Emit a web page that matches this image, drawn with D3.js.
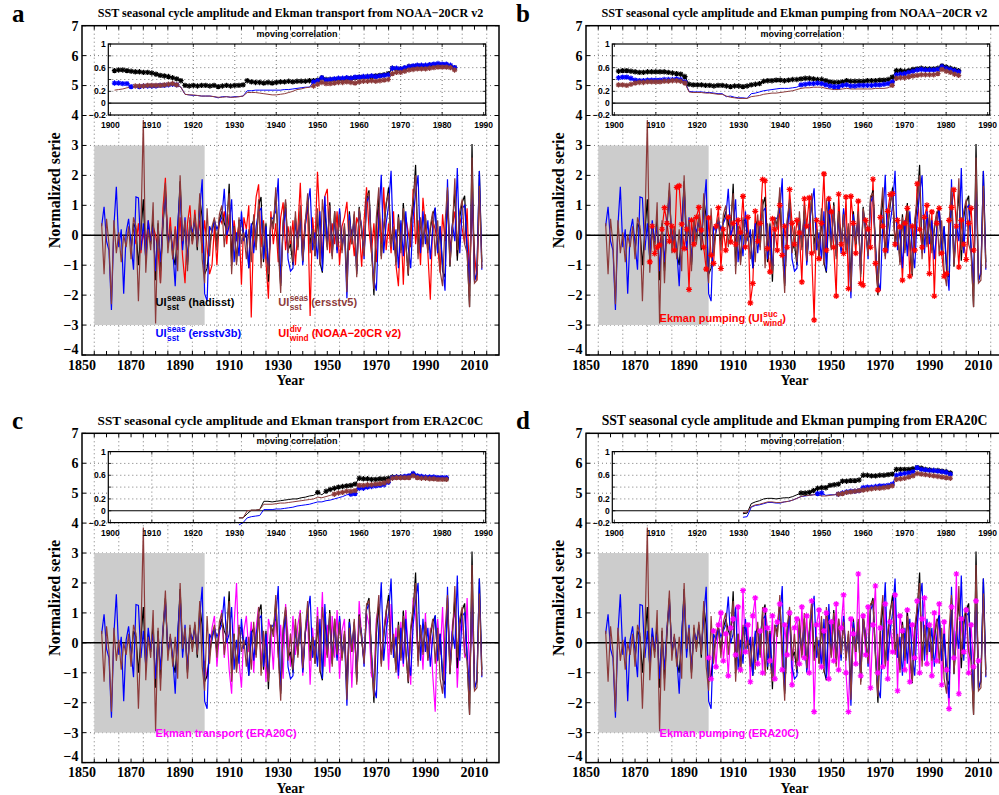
<!DOCTYPE html>
<html><head><meta charset="utf-8">
<script src="https://cdn.jsdelivr.net/npm/d3@7"></script>
<style>body{margin:0;background:#fff}</style>
</head><body><svg id="c" width="999" height="795"></svg>
<script>
// ---------------- DATA ----------------
const sstStart = 1858;
const ersstv5 = [0.4,-1.3,
 0.55,-0.3,-2.3,0.5,-0.6,0.1,-0.9,0.0,-0.4,0.3,
 -0.8,0.6,0.3,-2.2,0.2,3.85,-1.25,0.2,-0.5,1.1,
 -2.95,0.5,-1.6,0.4,1.75,-0.6,0.3,-0.8,0.2,-1.2,
 2.0,-0.2,0.5,-1.2,0.6,-0.3,0.7,-0.4,1.4,-0.8,
 -1.6,0.9,-0.7,0.3,0.6,-0.5,0.7,1.0,-0.4,0.5,
 1.4,-1.3,0.3,-1.0,0.6,-0.3,0.1,-0.8,0.2,-0.9,
 0.7,-0.5,1.2,-1.1,0.4,-0.6,-1.3,0.6,0.2,1.6,
 -0.4,-1.93,0.5,1.2,-0.6,0.3,-0.9,0.8,-0.5,1.0,
 -0.85,0.4,1.4,-0.6,0.2,-0.7,0.9,-1.0,1.2,0.3,
 -0.5,1.0,-0.8,0.8,-0.4,0.7,-0.6,0.4,-1.9,0.5,
 -0.3,0.8,-1.4,0.9,0.2,-0.7,1.3,1.4,-0.5,-1.8,
 0.6,1.6,-0.8,0.3,1.1,1.4,-0.4,0.3,-1.0,0.6,
 -0.6,0.9,-0.3,-1.3,0.5,1.2,2.0,-0.8,0.6,-0.4,
 0.7,-0.6,0.3,0.8,-0.7,0.5,-1.2,-1.7,0.4,1.6,
 -1.0,0.2,1.9,-0.5,0.8,1.2,-0.3,-0.6,-2.4,2.6,
 -1.6,-1.5,1.65,-1.1];
const ersstv3b = [0.3,0.95,
 -0.2,-0.5,-2.5,0.3,1.62,-0.4,0.2,-1.95,0.1,0.55,
 -0.3,-1.15,1.28,1.25,-0.5,0.4,-0.8,0.5,-0.2,0.3,
 -1.2,0.2,-0.9,0.5,1.4,-0.3,0.2,-0.5,-1.7,0.3,
 1.6,-0.5,0.6,-0.9,0.4,0.1,0.5,-0.3,0.9,1.87,
 -1.95,-2.2,0.3,0.1,0.5,0.2,0.4,0.6,1.55,0.0,
 0.3,1.2,-0.9,0.1,-0.7,0.8,-0.2,0.2,-1.1,0.4,
 -0.6,0.3,0.8,0.9,-0.8,0.3,-1.2,0.5,0.6,0.8,
 1.9,-1.6,0.2,0.9,-0.8,-1.2,-1.1,0.5,-0.2,0.6,
 -1.0,0.3,1.0,1.57,-0.5,0.1,-0.8,0.8,-1.2,1.3,
 -0.3,0.9,-0.6,0.6,-0.6,0.9,-0.4,0.2,-2.1,0.7,
 -0.2,0.6,-1.2,0.8,0.3,-0.8,1.1,1.3,-0.4,-1.5,
 -1.85,0.5,2.02,-0.6,0.4,1.0,2.15,-0.5,0.2,-1.1,
 0.5,-0.7,0.8,-0.4,-1.1,0.6,1.4,2.0,-0.6,0.8,
 -0.3,0.5,-0.8,0.2,0.93,-0.6,0.3,-1.0,-1.85,1.87,
 -0.9,0.4,-0.2,2.25,-0.6,0.9,1.0,-0.4,-1.6,1.8,
 -1.55,-1.2,2.15,-1.15];
const hadStart = 1870;
const hadisst = [
 -0.5,0.4,0.2,-1.0,0.1,1.2,-0.8,0.3,-0.3,0.6,
 -1.5,0.4,-1.2,0.3,1.5,-0.4,0.2,-0.6,-1.0,0.1,
 1.8,-0.3,0.4,-1.0,0.5,-0.2,0.6,-0.5,1.2,0.6,
 -1.3,-1.1,-0.4,0.2,0.5,-0.3,0.5,0.8,0.4,0.2,
 1.72,-1.0,0.3,-0.9,0.5,0.5,-0.1,0.0,-1.1,0.3,
 0.5,-0.4,1.0,1.28,-0.9,0.4,-1.55,0.6,0.3,1.4,
 -0.2,-1.7,0.4,1.1,-0.5,-0.3,-1.0,0.6,-0.4,0.8,
 -0.9,0.3,1.2,-0.3,0.2,-0.7,0.7,-0.9,-1.25,0.9,
 -0.4,1.1,-0.7,0.8,-0.5,0.8,-0.5,0.3,-1.5,0.8,
 -0.3,0.7,-1.3,0.95,0.1,-0.6,1.2,1.5,-0.3,-2.0,
 0.3,1.3,-0.7,0.2,1.0,1.6,-0.3,0.2,-0.9,0.7,
 -0.5,1.08,-0.2,-1.35,0.4,1.0,2.35,-0.6,0.5,-0.3,
 0.6,-0.5,0.2,0.7,0.9,-0.6,0.3,-1.2,-1.4,1.5,
 -1.05,0.3,1.5,-0.85,0.6,1.1,1.32,-0.5,-2.4,3.05,
 -1.5,-1.3,2.15,-0.9];

// Ekman indices
const noaaDivStart = 1871;
const noaaDiv = [0.2,-0.3,0.4,-0.6,0.1,-0.4,0.5,-0.2,0.3,
 0.0,-0.5,-1.6,0.9,1.92,-0.4,0.6,-0.8,0.3,-0.5,
 0.6,-0.7,-1.6,0.4,1.0,-0.3,0.85,-0.2,0.5,-0.6,
 0.5,-0.4,-1.3,-1.0,0.3,-1.0,0.6,0.4,0.8,-0.3,
 0.7,-0.6,0.5,-0.2,0.4,-1.65,0.6,0.2,1.0,-2.75,
 0.3,1.28,1.7,-0.4,0.5,-0.9,-2.12,0.8,-0.3,0.4,
 -0.9,0.6,1.1,-0.5,0.3,-0.4,0.5,-1.0,0.2,1.75,
 -0.6,0.5,0.9,-2.7,0.6,-0.3,2.12,0.4,-0.8,1.3,
 1.55,-0.6,0.4,-0.3,0.8,-1.0,0.3,0.6,1.12,-0.5,
 0.2,-0.7,0.6,0.3,-1.05,0.5,1.6,0.2,-0.6,0.4,
 -0.9,0.9,-0.3,1.6,-0.5,0.4,-0.6,0.8,-1.0,-1.7,
 0.4,-1.65,0.6,0.1,-0.4,1.55,-0.3,0.5,-1.0,1.25,
 0.3,-0.6,-2.15,0.5,0.2,-0.4,-1.25,0.7,-0.2,1.0,
 -0.5,0.3,0.8,-0.7,0.6,0.2,-0.3,0.9,-1.6,1.0,
 -0.6,-1.5,1.2];
const noaaSucStart = 1876;
const noaaSuc = [-0.89,0.3,-0.61,-0.4,
 -0.33,0.2,0.92,0.4,-0.2,0.3,-0.5,1.6,1.65,0.37,
 -0.44,0.2,-1.81,0.5,-0.3,0.6,0.93,0.17,-0.4,-1.13,
 0.58,-0.67,-0.94,0.3,0.92,-1.11,0.2,-0.5,0.6,-0.22,
 0.4,-0.3,0.5,0.1,1.3,-0.39,0.6,-2.26,-1.61,0.8,
 -0.2,0.4,1.86,1.82,-0.44,-1.22,0.55,0.2,-0.5,1.0,
 -0.67,0.3,-0.4,1.53,0.4,-0.3,0.5,0.08,-1.56,1.22,
 0.3,1.25,-0.6,-2.83,0.5,-0.78,0.4,2.05,-0.5,1.22,
 0.78,-0.4,-2.03,1.37,-0.3,-0.61,1.28,-1.78,1.3,0.4,
 -0.6,1.14,-1.61,-1.67,0.5,0.2,-0.4,1.87,-0.94,-1.83,
 0.6,0.3,-0.5,0.8,1.36,1.39,-0.3,0.5,0.28,-1.5,
 0.4,0.9,-1.37,0.3,-0.5,1.72,0.2,-0.4,0.6,1.0,
 -1.28,0.78,-2.03,0.4,0.9,-0.6,-1.37,-1.28,0.5,0.93,
 1.52,0.3,-1.06,0.5,-0.3,-0.81,0.4,0.9,-0.5];
const eraStart = 1900;
const eraTransport = [
 -0.6,-1.2,-0.4,0.5,0.9,-0.8,0.3,1.1,-0.5,0.4,
 -0.9,-1.7,0.6,2.0,-0.6,-1.5,0.4,0.9,-0.3,0.7,
 -1.0,0.5,1.2,-0.7,0.3,-1.3,0.8,0.4,-0.9,1.0,
 -0.5,0.6,-1.2,1.3,0.2,-0.8,0.9,-0.4,0.6,1.1,
 -1.1,0.3,0.8,-1.4,0.5,-0.6,1.2,-0.3,1.7,-0.8,
 0.6,-1.0,0.9,-0.5,1.1,-1.2,0.4,0.8,-1.6,0.7,
 -1.5,0.5,-0.9,1.4,0.2,-0.7,1.0,0.6,-1.1,-1.3,
 0.8,1.2,-0.6,0.4,1.0,-0.9,1.3,-0.4,0.5,-1.2,
 0.7,-0.8,1.1,-0.3,-1.4,1.5,0.9,-0.5,0.4,-0.9,
 1.0,-0.6,0.5,-1.1,-2.3,0.8,-0.4,1.2,-1.3,1.55,
 -0.8,0.6,1.1,-1.5,0.3,0.9,-0.5,1.5,-1.0,0.8,
 -0.7];
const eraPumping = [
 -0.5,-1.2,0.4,-0.8,0.6,1.0,-0.6,0.3,-1.1,0.5,
 0.8,-0.4,1.2,-0.9,1.75,-0.3,0.6,-1.3,0.9,1.5,
 -0.7,0.4,-1.0,1.1,0.5,-0.6,0.9,-1.2,0.7,1.3,
 -0.9,0.6,-0.4,1.0,-1.4,0.5,0.8,-0.7,1.2,-0.5,
 0.9,-1.0,1.4,-2.3,0.6,1.1,-0.8,0.4,1.0,-1.2,
 0.7,-0.6,1.3,-0.9,0.5,1.6,-1.0,-2.3,0.8,0.3,
 -0.7,2.3,-1.1,0.9,-0.4,1.2,-1.5,0.6,1.9,-1.0,
 0.5,-0.8,1.3,-1.2,0.7,-0.3,1.6,-1.6,0.9,0.4,
 -0.9,1.1,-1.3,0.6,-0.5,1.4,-1.0,0.8,1.5,-0.7,
 0.6,-1.1,1.0,-0.6,1.3,-1.4,0.7,-0.9,-2.2,1.2,
 -0.5,2.3,-1.7,0.8,-0.3,1.1,-1.0,0.6,-0.8,1.4,
 -0.6];

// moving correlations (insets)
const corrStartNOAA = 1901;
const corrA_had = [0.55,0.56,0.56,0.55,0.54,0.53,0.53,0.52,0.52,0.51,
 0.49,0.47,0.46,0.45,0.43,0.41,0.38,0.30,0.29,0.30,
 0.29,0.30,0.30,0.29,0.30,0.28,0.29,0.30,0.29,0.30,
 0.30,0.31,0.38,0.36,0.35,0.35,0.34,0.35,0.34,0.35,
 0.36,0.36,0.37,0.36,0.37,0.37,0.37,0.38,0.38,0.39,
 0.43,0.40,0.40,0.40,0.41,0.41,0.42,0.42,0.43,0.44,
 0.44,0.45,0.45,0.46,0.47,0.48,0.50,0.59,0.58,0.58,
 0.59,0.62,0.62,0.63,0.63,0.63,0.64,0.64,0.65,0.64,
 0.64,0.62,0.60];
const corrA_v3b = [0.34,0.34,0.33,0.33,0.28,0.27,0.28,0.29,0.29,0.29,
 0.29,0.30,0.30,0.31,0.32,0.31,0.27,0.15,0.14,0.13,
 0.13,0.12,0.12,0.12,0.11,0.09,0.11,0.11,0.10,0.11,
 0.11,0.12,0.21,0.21,0.22,0.22,0.22,0.22,0.22,0.22,
 0.22,0.23,0.23,0.24,0.25,0.26,0.27,0.27,0.36,0.38,
 0.43,0.39,0.40,0.41,0.42,0.42,0.43,0.42,0.44,0.44,
 0.45,0.45,0.46,0.45,0.46,0.47,0.48,0.59,0.59,0.58,
 0.60,0.62,0.63,0.64,0.64,0.64,0.65,0.66,0.67,0.66,
 0.66,0.64,0.60];
const corrA_v5 = [0.22,0.23,0.24,0.26,0.27,0.29,0.29,0.29,0.30,0.30,
 0.30,0.30,0.31,0.32,0.33,0.31,0.27,0.15,0.14,0.14,
 0.13,0.12,0.12,0.12,0.11,0.10,0.10,0.11,0.10,0.10,
 0.11,0.12,0.18,0.18,0.18,0.17,0.16,0.15,0.14,0.14,
 0.15,0.16,0.18,0.20,0.23,0.24,0.26,0.27,0.29,0.32,
 0.35,0.33,0.33,0.34,0.35,0.35,0.36,0.35,0.34,0.36,
 0.37,0.37,0.38,0.37,0.38,0.39,0.40,0.50,0.52,0.52,
 0.54,0.56,0.57,0.58,0.58,0.58,0.59,0.60,0.61,0.61,
 0.61,0.60,0.56];
const corrB_had = [0.54,0.55,0.55,0.54,0.53,0.52,0.52,0.53,0.53,0.53,
 0.53,0.53,0.52,0.51,0.50,0.49,0.45,0.32,0.31,0.31,
 0.31,0.30,0.30,0.29,0.30,0.30,0.29,0.28,0.29,0.29,
 0.28,0.29,0.31,0.32,0.33,0.37,0.38,0.38,0.39,0.39,
 0.38,0.39,0.40,0.40,0.41,0.42,0.42,0.41,0.40,0.40,
 0.38,0.36,0.35,0.35,0.36,0.38,0.37,0.37,0.37,0.37,
 0.38,0.38,0.38,0.39,0.39,0.40,0.44,0.55,0.55,0.54,
 0.55,0.57,0.58,0.59,0.58,0.58,0.58,0.59,0.63,0.61,
 0.59,0.57,0.55];
const corrB_v3b = [0.43,0.44,0.44,0.42,0.39,0.38,0.38,0.39,0.39,0.39,
 0.39,0.40,0.40,0.40,0.41,0.40,0.36,0.20,0.19,0.19,
 0.19,0.18,0.18,0.17,0.16,0.16,0.11,0.12,0.10,0.09,
 0.09,0.08,0.16,0.17,0.19,0.21,0.22,0.23,0.24,0.25,
 0.25,0.25,0.26,0.27,0.31,0.32,0.33,0.33,0.34,0.33,
 0.31,0.29,0.28,0.28,0.30,0.31,0.29,0.29,0.30,0.30,
 0.30,0.30,0.31,0.31,0.32,0.33,0.36,0.48,0.49,0.50,
 0.52,0.54,0.56,0.57,0.56,0.56,0.56,0.57,0.62,0.59,
 0.57,0.55,0.53];
const corrB_v5 = [0.31,0.31,0.30,0.32,0.34,0.35,0.35,0.36,0.36,0.36,
 0.36,0.37,0.37,0.38,0.38,0.37,0.34,0.19,0.18,0.18,
 0.18,0.17,0.17,0.16,0.15,0.15,0.12,0.10,0.09,0.08,
 0.08,0.08,0.11,0.12,0.13,0.15,0.16,0.17,0.17,0.18,
 0.19,0.20,0.21,0.23,0.25,0.26,0.26,0.27,0.27,0.27,
 0.25,0.24,0.23,0.23,0.24,0.25,0.24,0.24,0.24,0.24,
 0.24,0.24,0.25,0.25,0.25,0.26,0.30,0.42,0.43,0.43,
 0.45,0.46,0.47,0.48,0.48,0.48,0.48,0.50,0.57,0.54,
 0.52,0.49,0.47];
const corrStartERA = 1931;
const corrC_had = [-0.12,-0.12,-0.05,0.01,0.01,0.02,0.16,0.16,0.15,0.16,
 0.17,0.18,0.19,0.20,0.20,0.22,0.23,0.25,0.26,0.31,
 0.27,0.33,0.36,0.38,0.40,0.41,0.42,0.43,0.45,0.55,
 0.54,0.54,0.53,0.53,0.54,0.54,0.55,0.57,0.57,0.57,
 0.57,0.58,0.62,0.58,0.57,0.56,0.56,0.55,0.55,0.55,
 0.54];
const corrC_v3b = [-0.24,-0.20,-0.12,-0.10,-0.09,-0.08,0.02,0.02,0.02,0.03,
 0.03,0.04,0.05,0.06,0.08,0.09,0.10,0.11,0.13,0.15,
 0.15,0.17,0.18,0.20,0.22,0.24,0.27,0.28,0.29,0.38,
 0.38,0.40,0.41,0.42,0.43,0.44,0.48,0.56,0.57,0.57,
 0.58,0.59,0.63,0.59,0.58,0.57,0.57,0.57,0.56,0.56,
 0.56];
const corrC_v5 = [-0.12,-0.12,0.00,0.01,0.01,0.02,0.11,0.11,0.11,0.12,
 0.13,0.13,0.14,0.15,0.16,0.17,0.18,0.19,0.20,0.23,
 0.22,0.24,0.26,0.28,0.30,0.31,0.33,0.33,0.34,0.43,
 0.43,0.44,0.44,0.45,0.46,0.47,0.50,0.55,0.56,0.56,
 0.56,0.56,0.59,0.56,0.55,0.55,0.54,0.54,0.53,0.53,
 0.53];
const corrD_had = [-0.05,-0.04,0.12,0.15,0.17,0.20,0.21,0.21,0.20,0.21,
 0.22,0.22,0.24,0.27,0.30,0.30,0.31,0.34,0.38,0.39,
 0.39,0.43,0.44,0.45,0.50,0.50,0.51,0.51,0.52,0.60,
 0.60,0.59,0.59,0.60,0.60,0.61,0.62,0.70,0.70,0.70,
 0.70,0.71,0.73,0.72,0.70,0.69,0.68,0.68,0.67,0.66,
 0.64];
const corrD_v3b = [-0.11,-0.10,0.06,0.09,0.10,0.12,0.14,0.14,0.13,0.13,
 0.15,0.16,0.18,0.21,0.24,0.25,0.26,0.27,0.29,0.30,
 0.26,0.27,0.27,0.28,0.30,0.32,0.33,0.33,0.34,0.39,
 0.40,0.40,0.41,0.42,0.42,0.43,0.45,0.60,0.62,0.63,
 0.64,0.66,0.73,0.70,0.69,0.68,0.68,0.67,0.66,0.65,
 0.62];
const corrD_v5 = [-0.03,-0.02,0.07,0.10,0.11,0.13,0.15,0.15,0.14,0.14,
 0.15,0.16,0.18,0.21,0.24,0.26,0.26,0.27,0.27,0.25,
 0.25,0.26,0.27,0.28,0.29,0.31,0.32,0.33,0.34,0.35,
 0.36,0.37,0.38,0.38,0.39,0.40,0.42,0.53,0.54,0.55,
 0.57,0.59,0.63,0.62,0.61,0.60,0.59,0.58,0.57,0.56,
 0.55];

const mainXTicks = [1850,1870,1890,1910,1930,1950,1970,1990,2010];
const mainYTicks = [-4,-3,-2,-1,0,1,2,3,4,5,6,7];
const insetXTicks = [1900,1910,1920,1930,1940,1950,1960,1970,1980,1990];
const insetYLabels = [-0.2,0,0.2,0.6,1];
const insetYGrid = [0.2,0.4,0.6,0.8];
const sigLevel = 0.28;

const titles = [
 'SST seasonal cycle amplitude and Ekman transport from NOAA\u221220CR v2',
 'SST seasonal cycle amplitude and Ekman pumping from NOAA\u221220CR v2',
 'SST seasonal cycle amplitude and Ekman transport from ERA2C0C',
 'SST seasonal cycle amplitude and Ekman pumping from ERA20C'];
const letters = ['a','b','c','d'];

// ---------------- DRAW ----------------
const COL = {had:'#000000', v3b:'#0000ff', v5:'#8c3a3a', red:'#ff0000', mag:'#ff00ff'};
const serif = "'Liberation Serif','Times New Roman',serif";
const sans = "'Liberation Sans',Arial,Helvetica,sans-serif";
const svg = d3.select('#c');
const series = (start, vals) => vals.map((v,i)=>({year:start+i, v}));
function starPath(r){const d=r*0.7071;return `M${-r},0L${r},0M0,${-r}L0,${r}M${-d},${-d}L${d},${d}M${-d},${d}L${d},${-d}`;}

const panels = [
 {dx:0, dy:0, wind:series(noaaDivStart,noaaDiv), wc:COL.red, stars:false,
  corr:[corrA_had,corrA_v3b,corrA_v5], cStart:corrStartNOAA,
  legend:[
   {at:[1880,-2.37], color:COL.had, parts:[{t:'UI'},{sup:'seas',sub:'sst'},{t:'(hadisst)'}]},
   {at:[1930,-2.37], color:COL.v5, parts:[{t:'UI'},{sup:'seas',sub:'sst'},{t:'(ersstv5)'}]},
   {at:[1880,-3.4], color:COL.v3b, parts:[{t:'UI'},{sup:'seas',sub:'sst'},{t:'(ersstv3b)'}]},
   {at:[1930,-3.4], color:COL.red, parts:[{t:'UI'},{sup:'div',sub:'wind'},{t:'(NOAA\u221220CR v2)'}]}]},
 {dx:504, dy:0, wind:series(noaaSucStart,noaaSuc), wc:COL.red, stars:true,
  corr:[corrB_had,corrB_v3b,corrB_v5], cStart:corrStartNOAA,
  legend:[{at:[1880,-2.89], color:COL.red, parts:[{t:'Ekman pumping (UI'},{sup:'suc',sub:'wind'},{t:')', tight:true}]}]},
 {dx:0, dy:407.6, wind:series(eraStart,eraTransport), wc:COL.mag, stars:false,
  corr:[corrC_had,corrC_v3b,corrC_v5], cStart:corrStartERA,
  legend:[{at:[1880,-3.15], color:COL.mag, parts:[{t:'Ekman transport (ERA20C)'}]}]},
 {dx:504, dy:407.6, wind:series(eraStart,eraPumping), wc:COL.mag, stars:true,
  corr:[corrD_had,corrD_v3b,corrD_v5], cStart:corrStartERA,
  legend:[{at:[1880,-3.15], color:COL.mag, parts:[{t:'Ekman pumping (ERA20C)'}]}]}
];

const L=82, R=499, T=25.7, B=355;
const IL=108.3, IR=485.7, IT=44, IB=115;

panels.forEach((p, pi) => {
  const g = svg.append('g').attr('transform', `translate(${p.dx},${p.dy})`);
  const x = d3.scaleLinear().domain([1850,2020]).range([L,R]);
  const y = d3.scaleLinear().domain([-4,7]).range([B,T]);

  g.append('text').attr('x',12).attr('y',21.7).text(letters[pi])
   .style('font-family',serif).style('font-weight','bold').style('font-size','25px');
  const tt = g.append('text').attr('x',(L+R)/2).attr('y',17).attr('text-anchor','middle').text(titles[pi])
   .style('font-family',serif).style('font-weight','bold').style('font-size','12px');
  const tl = tt.node().getComputedTextLength();
  if (tl>0) tt.style('font-size', (12*386/tl).toFixed(2)+'px');

  const grid = g.append('g').attr('stroke','#555').attr('stroke-width',0.8).attr('stroke-dasharray','1,3');
  d3.range(-3,7).forEach(v => grid.append('line').attr('x1',L).attr('x2',R).attr('y1',y(v)).attr('y2',y(v)));
  d3.range(1855,2020,10).forEach(yr => grid.append('line').attr('x1',x(yr)).attr('x2',x(yr)).attr('y1',T).attr('y2',B));

  g.append('rect').attr('x',x(1855)).attr('y',y(3)).attr('width',x(1900)-x(1855)).attr('height',y(-3)-y(3)).attr('fill','#cccccc');

  g.append('line').attr('x1',L).attr('x2',R).attr('y1',y(0)).attr('y2',y(0)).attr('stroke','#000').attr('stroke-width',1.5);

  const line = d3.line().x(d=>x(d.year)).y(d=>y(d.v));
  g.append('path').datum(p.wind).attr('d',line).attr('fill','none').attr('stroke',p.wc).attr('stroke-width',1.2);
  [[series(hadStart,hadisst),COL.had],[series(sstStart,ersstv3b),COL.v3b],[series(sstStart,ersstv5),COL.v5]].forEach(([s,c]) => {
    g.append('path').datum(s).attr('d',line).attr('fill','none').attr('stroke',c).attr('stroke-width',1.2);
  });
  if (p.stars) {
    g.append('g').selectAll('path').data(p.wind).join('path')
     .attr('transform',d=>`translate(${x(d.year)},${y(d.v)})`).attr('d',starPath(3))
     .attr('fill','none').attr('stroke',p.wc).attr('stroke-width',1.2);
  }

  g.append('rect').attr('x',L).attr('y',T).attr('width',R-L).attr('height',B-T).attr('fill','none').attr('stroke','#000').attr('stroke-width',1.5);
  const tk = g.append('g').attr('stroke','#000').attr('stroke-width',1);
  d3.range(1855,2020,5).forEach(yr => {
    tk.append('line').attr('x1',x(yr)).attr('x2',x(yr)).attr('y1',B).attr('y2',B-4);
    tk.append('line').attr('x1',x(yr)).attr('x2',x(yr)).attr('y1',T).attr('y2',T+4);
  });
  mainYTicks.forEach(v => {
    tk.append('line').attr('x1',L).attr('x2',L+4).attr('y1',y(v)).attr('y2',y(v));
    tk.append('line').attr('x1',R).attr('x2',R-4).attr('y1',y(v)).attr('y2',y(v));
  });
  const lab = g.append('g').style('font-family',serif).style('font-weight','bold').style('font-size','14px');
  mainXTicks.forEach(yr => lab.append('text').attr('x',x(yr)).attr('y',B+14.5).attr('text-anchor','middle').text(yr));
  mainYTicks.forEach(v => lab.append('text').attr('x',L-3.5).attr('y', v===-4 ? y(v)-1.5 : y(v)).attr('dy', v===-4 ? '0' : '0.35em').attr('text-anchor','end').text(v<0?'\u2212'+(-v):v));
  g.append('text').attr('transform',`translate(60,${(T+B)/2}) rotate(-90)`).attr('text-anchor','middle').text('Normalized serie')
   .style('font-family',serif).style('font-weight','bold').style('font-size','16px');
  g.append('text').attr('x',(L+R)/2).attr('y',385).attr('text-anchor','middle').text('Year')
   .style('font-family',serif).style('font-weight','bold').style('font-size','14px');

  p.legend.forEach(lg => {
    let cx = x(lg.at[0]); const by = y(lg.at[1]);
    const tg = g.append('g').attr('fill',lg.color).style('font-family',sans).style('font-weight','bold');
    lg.parts.forEach((pt,k) => {
      if (pt.t !== undefined) {
        if (k>0 && !pt.tight) cx += 3;
        const t = tg.append('text').attr('x',cx).attr('y',by).style('font-size','11px').text(pt.t);
        cx += t.node().getComputedTextLength();
      } else {
        const a = tg.append('text').attr('x',cx+0.5).attr('y',by-5).style('font-size','8.3px').text(pt.sup);
        const b = tg.append('text').attr('x',cx+0.5).attr('y',by+4).style('font-size','8.3px').text(pt.sub);
        cx += 0.5 + Math.max(a.node().getComputedTextLength(), b.node().getComputedTextLength());
      }
    });
  });

  // ---- inset ----
  const xi = d3.scaleLinear().domain([1899.5,1990.5]).range([IL,IR]);
  const yi = d3.scaleLinear().domain([-0.2,1]).range([IB,IT]);
  g.append('rect').attr('x',IL).attr('y',IT).attr('width',IR-IL).attr('height',IB-IT).attr('fill','#fff');
  const ig = g.append('g').attr('stroke','#555').attr('stroke-width',0.8).attr('stroke-dasharray','1,3');
  insetYGrid.forEach(v => ig.append('line').attr('x1',IL).attr('x2',IR).attr('y1',yi(v)).attr('y2',yi(v)));
  insetXTicks.slice(1,-1).forEach(yr => ig.append('line').attr('x1',xi(yr)).attr('x2',xi(yr)).attr('y1',IT).attr('y2',IB));
  g.append('line').attr('x1',IL).attr('x2',IR).attr('y1',yi(0)).attr('y2',yi(0)).attr('stroke','#000').attr('stroke-width',1.2);
  const iline = d3.line().x(d=>xi(d.year)).y(d=>yi(d.v));
  const icol = [COL.had, COL.v3b, COL.v5];
  p.corr.forEach((vals,k) => {
    const s = series(p.cStart, vals);
    g.append('path').datum(s).attr('d',iline).attr('fill','none').attr('stroke',icol[k]).attr('stroke-width',1);
  });
  p.corr.forEach((vals,k) => {
    const s = series(p.cStart, vals).filter(d => d.v >= sigLevel);
    g.append('g').selectAll('path').data(s).join('path')
     .attr('transform',d=>`translate(${xi(d.year)},${yi(d.v)})`).attr('d',starPath(2.7))
     .attr('fill','none').attr('stroke',icol[k]).attr('stroke-width',1.2);
  });
  g.append('rect').attr('x',IL).attr('y',IT).attr('width',IR-IL).attr('height',IB-IT).attr('fill','none').attr('stroke','#000').attr('stroke-width',1.2);
  const itk = g.append('g').attr('stroke','#000').attr('stroke-width',0.8);
  insetXTicks.forEach(yr => {
    itk.append('line').attr('x1',xi(yr)).attr('x2',xi(yr)).attr('y1',IB).attr('y2',IB-3);
    itk.append('line').attr('x1',xi(yr)).attr('x2',xi(yr)).attr('y1',IT).attr('y2',IT+3);
  });
  d3.range(-0.2,1.01,0.2).forEach(v => {
    itk.append('line').attr('x1',IL).attr('x2',IL+3).attr('y1',yi(v)).attr('y2',yi(v));
    itk.append('line').attr('x1',IR).attr('x2',IR-3).attr('y1',yi(v)).attr('y2',yi(v));
  });
  const il = g.append('g').style('font-family',sans).style('font-weight','bold').style('font-size','8.5px');
  insetXTicks.forEach(yr => il.append('text').attr('x',xi(yr)).attr('y',128).attr('text-anchor','middle').text(yr));
  insetYLabels.forEach(v => il.append('text').attr('x',IL-2.5).attr('y',yi(v)).attr('dy','0.35em').attr('text-anchor','end').text(v<0?'\u2212'+(-v):v));
  g.append('text').attr('x',(IL+IR)/2).attr('y',36.5).attr('text-anchor','middle').text('moving correlation')
   .style('font-family',sans).style('font-weight','bold').style('font-size','9px');
});
</script></body></html>
